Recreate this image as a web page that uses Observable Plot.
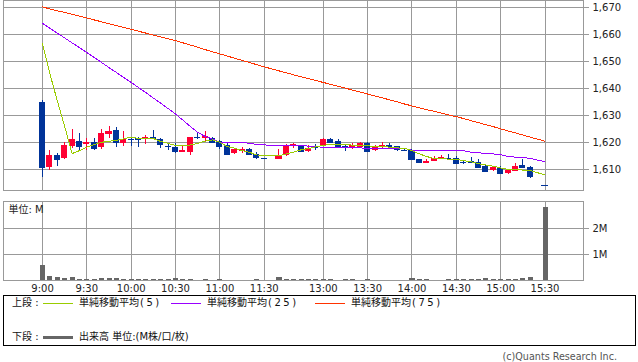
<!DOCTYPE html>
<html><head><meta charset="utf-8">
<script src="https://cdn.jsdelivr.net/npm/d3@7"></script>
<script src="https://cdn.jsdelivr.net/npm/@observablehq/plot@0.6"></script>
<style>
html,body{margin:0;padding:0;background:#fff;}
body{width:638px;height:362px;position:relative;overflow:hidden;font-family:"DejaVu Sans","Noto Sans CJK JP",sans-serif;color:#222;}
.abs{position:absolute;white-space:nowrap;}
#price{left:0;top:0;}
#volume{left:0;top:191px;}
#price svg,#volume svg{display:block;}
#legendBox{left:3px;top:295px;width:633px;height:51px;border:1px solid #000;box-sizing:border-box;}
.lt{font-size:10px;line-height:12px;color:#111;}
.par{letter-spacing:2.5px;margin-left:1px;}
.sw{height:1px;width:30px;}
#copy{font-size:9.6px;line-height:12px;color:#555;right:21px;top:351px;}
</style></head><body>
<div id="price" class="abs"></div>
<div id="volume" class="abs"></div>
<div id="legendBox" class="abs"></div>
<div id="legend"></div>
<div id="copy" class="abs">(c)Quants Research Inc.</div>
<script>
// ---- data ----
const noTrade = ["15:25"];
const sessions = [["9:00", "11:30"], ["12:30", "15:30"]];
const open  = [1635,1610.6,1615.2,1614.1,1618.6,1620.4,1619.3,1619.9,1618.3,1622.9,1624.4,1619.8,1621,1621.5,1621.1,1622,1621,1618.5,1618.1,1616.4,1616.3,1621.7,1621.6,1621.4,1620.4,1619,1615.8,1616.8,1617.4,1615.7,1614,
               1613.8,1615.3,1618.8,1618.9,1616.8,1618.5,1618.6,1621.1,1620.4,1618.5,1618.3,1618.3,1619.6,1617.2,1618.4,1619,1618.4,1617.2,1617,1613.6,1612.3,1612.8,1613.8,1614.2,1614.1,1612.5,1613.1,1612.6,1611.2,1609.6,1610.5,1608.6,1609.4,1611.4,1610.7,1604.1];
const high  = [1635.5,1617,1615.8,1620.1,1624.8,1623.4,1621.6,1621.6,1624.8,1625.9,1625.7,1624.2,1622,1622,1622.6,1624.4,1621.6,1619.8,1619.8,1618.5,1622,1623.2,1624.1,1622,1620.7,1619.8,1617.9,1618.1,1617.8,1616.3,1614,
               1617.5,1619.1,1619.7,1619,1618.8,1619.3,1621.6,1621.5,1621.1,1619,1619.7,1620,1619.9,1618.8,1619.9,1619.5,1618.5,1617.3,1617.3,1613.6,1613.8,1614.8,1615.3,1615.6,1614.8,1613,1614.4,1613.6,1611.6,1611.3,1611.1,1609.6,1612.1,1613.8,1611.1,1604.1];
const low   = [1607.2,1609.5,1611.2,1613.7,1617.7,1617.2,1617.2,1617,1617.3,1621.6,1618,1618.5,1618.5,1618.2,1619.3,1621.2,1617.9,1617,1615.8,1616.2,1615.3,1621,1620,1619.6,1617.3,1615.2,1615.4,1615.8,1615.2,1613.7,1614,
               1613.8,1615,1617.8,1616.3,1616.4,1617,1618.5,1619.7,1618,1616.8,1617.3,1618,1616.6,1616.8,1617.5,1618.3,1616.8,1616.8,1613.5,1612.1,1612.3,1612.8,1613.7,1613.8,1612.2,1612,1612.3,1610.9,1609.4,1609.4,1608.4,1608.1,1609.3,1610.6,1606.8,1604.1];
const close = [1610.6,1615.2,1613.7,1618.9,1621,1618.5,1620.1,1617.9,1623.2,1624.1,1620,1621.3,1621,1621,1622,1621.5,1619.3,1618.5,1616.7,1617,1622,1621.7,1622.2,1620.1,1618.7,1615.6,1617.3,1617.5,1615.4,1614.3,1614,
               1615.2,1618.8,1619.2,1616.7,1617.9,1618,1621.1,1620,1618.3,1618.5,1618.8,1619.6,1616.8,1618.3,1619,1618.5,1617.5,1617,1613.7,1612.6,1613.1,1614.2,1614.6,1613.9,1612.3,1612.5,1612.7,1610.9,1609.4,1610.7,1608.6,1609.6,1611.1,1610.7,1607.4,1604.1];
const volume = [0.58,0.15,0.10,0.077,0.10,0.045,0.04,0.04,0.077,0.077,0.077,0.04,0.04,0.04,0.04,0.03,0.04,0.04,0.077,0.04,0.04,0.015,0.04,0.015,0.04,0.013,0.013,0.013,0.013,0.04,0.01,
               0.10,0.05,0.04,0.04,0.04,0.05,0.05,0.04,0.015,0.05,0.05,0.015,0.05,0.013,0.013,0.013,0.013,0.013,0.09,0.05,0.03,0.013,0.013,0.05,0.04,0.04,0.04,0.05,0.09,0.04,0.04,0.04,0.05,0.077,0.13,2.82];
const ma5  = [1656.6,1645.5,1635.5,1626,1615.9,1617,1618.3,1619.3,1620.1,1620.5,1620.8,1621.4,1622,1621.5,1621.5,1621.5,1620.4,1619.7,1618.9,1618.9,1619.1,1619.7,1620.5,1621,1620.1,1618.5,1617.9,1617,1616.4,1615.4,1615.2,
              1615.1,1615.8,1616.5,1617.3,1617.8,1618.4,1619,1619.3,1619.3,1619.3,1619,1619,1618.8,1618.5,1618.5,1618.3,1618,1617.9,1617,1615.8,1614.8,1614.1,1614.1,1613.8,1613.7,1613.3,1612.9,1612.1,1611.7,1611.2,1610.6,1610,1609.9,1609.8,1609.6,1608];
const ma25 = [1664.2,1662.4,1660.6,1658.8,1657,1655.2,1653.4,1651.6,1649.7,1647.8,1646,1644.1,1642.3,1640.4,1638.5,1636.5,1634.6,1632.6,1630.6,1628.3,1626,1623.8,1622.3,1621.3,1620.1,1619.9,1619.9,1619.9,1619.8,1619.2,1619.1,
              1619,1618.8,1618.8,1618.8,1618.7,1618.4,1618.3,1618.3,1618.3,1618.3,1618,1618,1617.9,1617.9,1617.9,1617.9,1617.8,1617.8,1617.1,1617.1,1617.1,1617,1617,1617,1617,1617,1616.4,1616.2,1616,1615.8,1615.5,1614.8,1614.6,1614.5,1614.1,1612.9];
const ma75 = [1670.3,1669.6,1668.9,1668.3,1667.6,1666.9,1666.2,1665.5,1664.8,1664.1,1663.4,1662.7,1662,1661.3,1660.6,1659.9,1659.2,1658.5,1657.8,1657,1656.2,1655.4,1654.5,1653.7,1652.9,1652.1,1651.3,1650.5,1649.7,1648.9,1648.1,
              1646.6,1645.9,1645.1,1644.4,1643.7,1643,1642.3,1641.6,1640.9,1640.2,1639.4,1638.7,1638,1637.3,1636.6,1635.8,1635.1,1634.3,1633.6,1632.9,1632.2,1631.6,1630.9,1630.2,1629.6,1628.9,1628.1,1627.4,1626.6,1625.9,1625.1,1624.3,1623.6,1622.8,1622,1620.5];
const tickLabels = ["9:00","9:30","10:00","10:30","11:00","11:30","13:00","13:30","14:00","14:30","15:00","15:30"];
const priceTicks = [1610,1620,1630,1640,1650,1660,1670];
const volumeTicks = [1,2];

// ---- helpers ----
const toMin = t => { const [h, m] = t.split(":").map(Number); return h * 60 + m; };
const fmt = m => Math.floor(m / 60) + ":" + String(m % 60).padStart(2, "0");
const amEnd = toMin(sessions[0][1]);
const pmStart = toMin(sessions[1][0]);
const pmFirstSlot = (amEnd - toMin(sessions[0][0])) / 5 + 2; // one blank slot for the lunch break
const slotOf = t => { const v = toMin(t); return v <= amEnd ? (v - toMin(sessions[0][0])) / 5 : (v - pmStart) / 5 + pmFirstSlot; };
const times = [];
for (const [a, b] of sessions) for (let m = toMin(a); m <= toMin(b); m += 5) { const t = fmt(m); if (!noTrade.includes(t)) times.push(t); }

const rows = times.map((t, i) => ({time: t, slot: slotOf(t), open: open[i], high: high[i], low: low[i], close: close[i], volume: volume[i], ma5: ma5[i], ma25: ma25[i], ma75: ma75[i]}));
const tickSlots = tickLabels.map(slotOf);
const labelOf = new Map(tickSlots.map((s, i) => [s, tickLabels[i]]));

const UP = "#ff0033", DOWN = "#003399";
const col = d => d.close > d.open ? UP : DOWN;
const GRID = "#999999";
const xDomain = [-5.28, 73.21];
const halfBody = 0.41;

const price = Plot.plot({
  width: 638, height: 191,
  marginLeft: 3, marginRight: 55, marginTop: 0, marginBottom: 1,
  style: {fontFamily: "DejaVu Sans, Noto Sans CJK JP, sans-serif", fontSize: "10px", background: "#fff", overflow: "visible"},
  x: {type: "linear", domain: xDomain, axis: null},
  y: {type: "linear", domain: [1602.21, 1672.71], axis: null, label: null},
  marks: [
    Plot.gridX(tickSlots, {stroke: GRID, strokeOpacity: 1}),
    Plot.gridY(priceTicks, {stroke: GRID, strokeOpacity: 1}),
    Plot.frame({stroke: GRID}),
    Plot.axisY(priceTicks, {anchor: "right", label: null, tickSize: 5, tickPadding: 4, stroke: GRID, fill: "#222", tickFormat: d3.format(",")}),
    Plot.ruleX(rows, {x: "slot", y1: "low", y2: "high", stroke: col}),
    Plot.rect(rows, {x1: d => d.slot - halfBody, x2: d => d.slot + halfBody, y1: "open", y2: "close", fill: col}),
    Plot.ruleY(rows, {x1: d => d.slot - halfBody, x2: d => d.slot + halfBody, y: "close", stroke: col}),
    Plot.line(rows, {x: "slot", y: "ma75", stroke: "#ff3300", strokeWidth: 1}),
    Plot.line(rows, {x: "slot", y: "ma25", stroke: "#9900ff", strokeWidth: 1}),
    Plot.line(rows, {x: "slot", y: "ma5", stroke: "#99cc00", strokeWidth: 1})
  ]
});
price.style.shapeRendering = "crispEdges";
document.getElementById("price").appendChild(price);

const vol = Plot.plot({
  width: 638, height: 104,
  marginLeft: 3, marginRight: 55, marginTop: 10, marginBottom: 15,
  style: {fontFamily: "DejaVu Sans, Noto Sans CJK JP, sans-serif", fontSize: "10px", background: "transparent", overflow: "visible"},
  x: {type: "linear", domain: xDomain, axis: null, label: null},
  y: {type: "linear", domain: [0, 3.04], axis: null, label: null},
  marks: [
    Plot.gridX(tickSlots, {stroke: GRID, strokeOpacity: 1}),
    Plot.gridY(volumeTicks, {stroke: GRID, strokeOpacity: 1}),
    Plot.frame({stroke: GRID}),
    Plot.rectY(rows, {x1: d => d.slot - 0.27, x2: d => d.slot + 0.41, y: "volume", fill: "#666666"}),
    Plot.axisY(volumeTicks, {anchor: "right", label: null, tickSize: 5, tickPadding: 4, stroke: GRID, fill: "#222", tickFormat: d => d + "M"}),
    Plot.axisX(tickSlots, {anchor: "bottom", label: null, tickSize: 0, tickPadding: 4, fill: "#222", tickFormat: d => labelOf.get(d)}),
    Plot.text(["単位: M"], {frameAnchor: "top-left", textAnchor: "start", lineAnchor: "middle", dx: 5, dy: 8, fill: "#222", fontSize: 10})
  ]
});
vol.style.shapeRendering = "crispEdges";
document.getElementById("volume").appendChild(vol);

// ---- legend ----
const legendItems = [
  {row: 0, kind: "label", text: "上段 :", left: 12},
  {row: 0, kind: "line", color: "#99cc00", left: 43, text: "単純移動平均", param: "(5)"},
  {row: 0, kind: "line", color: "#9900ff", left: 171, text: "単純移動平均", param: "(25)"},
  {row: 0, kind: "line", color: "#ff3300", left: 315, text: "単純移動平均", param: "(75)"},
  {row: 1, kind: "label", text: "下段 :", left: 12},
  {row: 1, kind: "bar", color: "#666666", left: 43, text: "出来高 単位:(M株/口/枚)"}
];
const rowY = [303, 337];
const lg = document.getElementById("legend");
for (const it of legendItems) {
  const cy = rowY[it.row];
  const s = document.createElement("div");
  s.className = "abs lt";
  s.style.top = (cy - 6) + "px";
  s.textContent = it.text;
  if (it.param) { const p = document.createElement("span"); p.className = "par"; p.textContent = it.param; s.appendChild(p); }
  if (it.kind === "label") {
    s.style.left = it.left + "px";
  } else {
    const sw = document.createElement("div");
    sw.className = "abs sw";
    sw.style.left = it.left + "px"; sw.style.background = it.color;
    if (it.kind === "bar") { sw.style.height = "3px"; sw.style.top = (cy - 1) + "px"; }
    else sw.style.top = cy + "px";
    lg.appendChild(sw);
    s.style.left = (it.left + 36) + "px";
  }
  lg.appendChild(s);
}
</script>
</body></html>
